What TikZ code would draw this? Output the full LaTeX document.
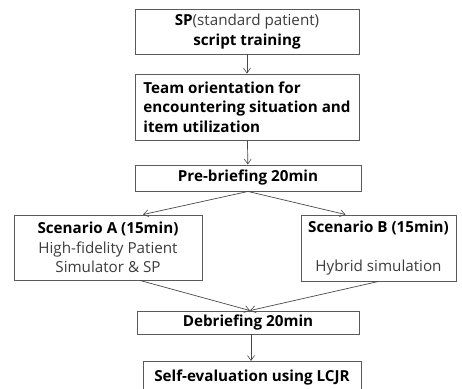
\documentclass[tikz,border=0pt]{standalone}
\usepackage{fontspec}
\setmainfont{Open Sans}
\usetikzlibrary{arrows.meta}
\definecolor{boxline}{HTML}{5A5A5A}
\definecolor{plaintext}{HTML}{3C3C3C}
\tikzset{
    stage/.style={draw=boxline, line width=0.9pt, inner sep=0pt, align=center,
        font=\fontsize{15.2}{19.5}\selectfont},
    flow/.style={draw=boxline!80!black, line width=0.7pt,
        -{Straight Barb[length=5pt, width=7pt, line width=0.6pt]}}
}
\newcommand{\plain}[1]{{\normalfont\color{plaintext}#1}}
\begin{document}
\begin{tikzpicture}[x=1pt, y=-1pt]
    \useasboundingbox (0, 0) rectangle (462, 388);
    % steps of the training session
    \node[stage, minimum width=224pt, minimum height=45pt] (sp) at (247, 31.5)
        {\textbf{SP}\plain{(standard patient)}\\\textbf{script training}};
    \node[stage, minimum width=224pt, minimum height=66pt, align=left] (team) at (247, 107)
        {\textbf{Team orientation for}\\\textbf{encountering situation and}\\\textbf{item utilization}};
    \node[stage, minimum width=226pt, minimum height=26pt] (pre) at (248, 178)
        {\textbf{Pre-briefing 20min}};
    \node[stage, minimum width=188pt, minimum height=65pt] (scA) at (108, 247.5)
        {\textbf{Scenario A (15min)}\\\plain{High-fidelity Patient}\\\plain{Simulator \& SP}};
    \node[stage, minimum width=155pt, minimum height=66pt] (scB) at (378.5, 248)
        {\textbf{Scenario B (15min)}\\[19.5pt]\plain{Hybrid simulation}};
    \node[stage, minimum width=222pt, minimum height=23pt] (deb) at (248, 322.5)
        {\textbf{Debriefing 20min}};
    \node[stage, minimum width=218pt, minimum height=33pt, anchor=north] (self) at (252, 361)
        {\textbf{Self-evaluation using LCJR}};
    % connectors
    \draw[flow] (sp) -- (team);
    \draw[flow] (team) -- (pre);
    \draw[flow] (pre.south) -- ([xshift=35pt]scA.north);
    \draw[flow] (pre.south) -- ([xshift=-33pt]scB.north);
    \draw[flow] ([xshift=32pt]scA.south) -- ([xshift=2pt]deb.north);
    \draw[flow] (scB.south) -- ([xshift=2pt]deb.north);
    \draw[flow] ([xshift=3pt]deb.south) -- ([xshift=-1pt]self.north);
\end{tikzpicture}
\end{document}
